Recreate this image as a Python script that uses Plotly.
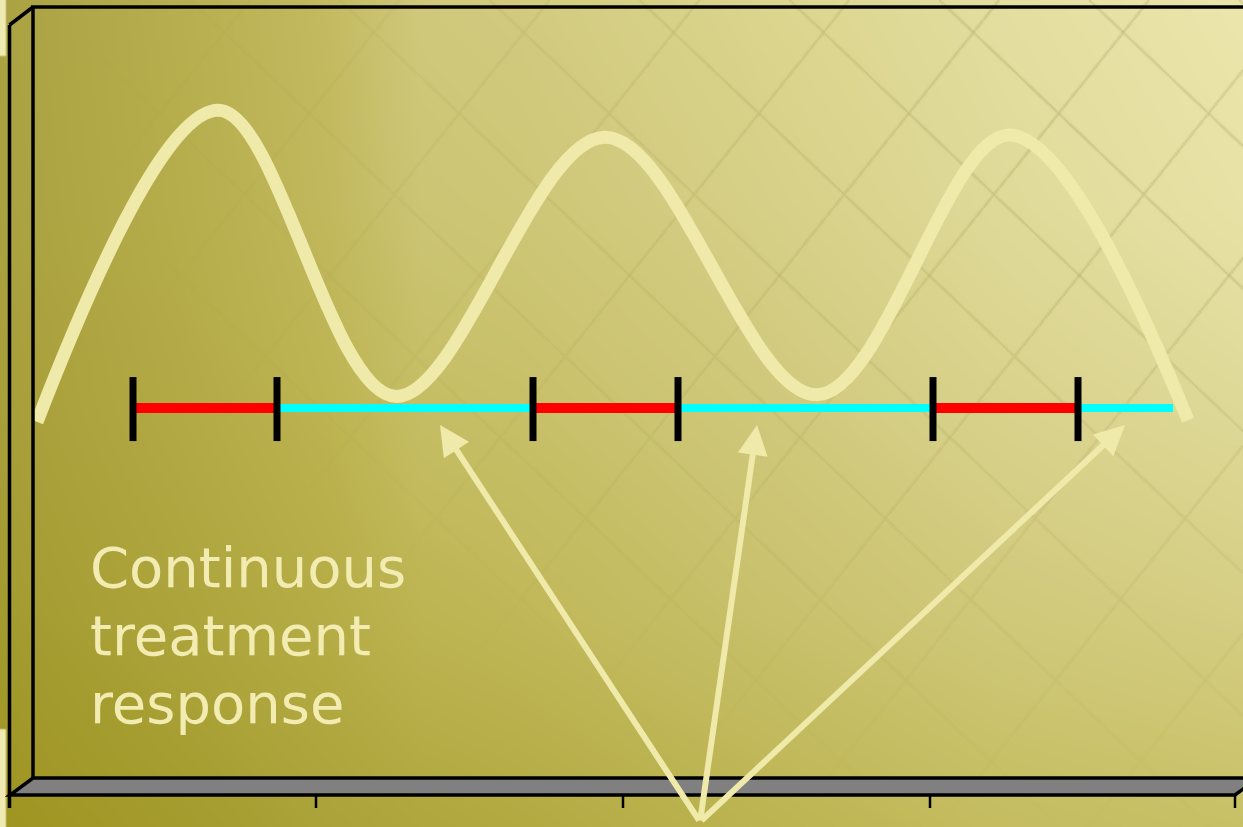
import base64
import struct
import zlib

import numpy as np
import plotly.graph_objects as go

W, H = 1243, 827

# ---- data -------------------------------------------------------------
# symptom level over time (wave of continuous treatment response)
curve_t = [0.1, 4.625, 9.05, 14.3, 19.6, 24.425, 28.875]
curve_v = [46.2, 86.6, 49.5, 83.1, 49.7, 83.4, 46.4]

# treatment-on periods (red) and treatment-off periods (cyan)
on_start = [2.5, 12.5, 22.5]
on_end = [6.1, 16.125, 26.125]
off_end = [12.5, 22.5, 28.5]
period_level = 48.0
marker_low, marker_high = 43.7, 52.0

# arrows point at the off-treatment intervals
arrow_tip_t = [10.175, 18.1, 27.3]
arrow_tip_v = [45.8, 45.8, 45.8]
arrow_tail = (16.675, -5.7)

label_lines = ["Continuous", "treatment", "response"]

PALE = "#efe9aa"


def px(x):
    return x / W


def py(y):
    return 1 - y / H


# ---- background: olive gradient with faint crosshatch --------------------
grid_x = [0, 180, 330, 420, 520, 750, 1000, 1243]
grid_y = [0, 207, 413, 620, 827]
grid_hex = [
    ["#aba243", "#b8af50", "#c4bb62", "#d0c97c", "#d2cb80", "#dbd58d", "#e4dea0", "#ece6ad"],
    ["#aaa140", "#b6ad4c", "#c2b95e", "#ccc574", "#cec777", "#d6cf86", "#e0da99", "#e8e2a6"],
    ["#a89f3a", "#b3aa46", "#bdb452", "#c6be64", "#c8c068", "#cfc87a", "#d9d28c", "#dfd998"],
    ["#a49b30", "#ada43c", "#b6ad46", "#bdb552", "#c0b858", "#c8c06a", "#d0c97a", "#d5ce83"],
    ["#9e9522", "#a59c2e", "#aca33a", "#b0a73e", "#b3aa42", "#bcb450", "#c5bd60", "#c9c166"],
]


def hex_rgb(h):
    return [int(h[i:i + 2], 16) for i in (1, 3, 5)]


grid = np.array([[hex_rgb(c) for c in row] for row in grid_hex], dtype=float)
S = 2  # background rendered at half resolution
sw, sh = (W + 1) // S, (H + 1) // S
xs = (np.arange(sw) + 0.5) * S
ys = (np.arange(sh) + 0.5) * S
img = np.zeros((sh, sw, 3))
for ch in range(3):
    tmp = np.array([np.interp(xs, grid_x, grid[r, :, ch]) for r in range(len(grid_y))])
    img[:, :, ch] = np.array([np.interp(ys, grid_y, tmp[:, i]) for i in range(sw)]).T

# two families of slanted hatch lines, fading toward the lower left
X, Y = np.meshgrid(xs, ys)
spacing = 150.0
hatch = np.zeros_like(X)
for slope, offset in [(870 / 827, 40.0), (-660 / 827, 100.0)]:
    u = (X - slope * Y - offset) % spacing
    d = np.minimum(u, spacing - u) / np.sqrt(1 + slope ** 2)
    hatch = np.maximum(hatch, np.clip(1.4 - d, 0, 1))
fade = np.clip(1.25 - np.hypot((W - X) / W, (Y - 0.1 * H) / H) / 0.75, 0, 1)
k = (0.26 * hatch * fade)[..., None]
img = img * (1 - k) + np.array([120, 115, 40]) * k

# pale strips along the left edge
pale = np.array(hex_rgb("#efe9b2"), dtype=float)
img[(X < 6) & (Y < 57)] = pale
img[(X < 6) & (Y > 729)] = pale
img = np.clip(img, 0, 255).astype(np.uint8)


def png_bytes(arr):
    h, w, _ = arr.shape
    raw = b"".join(b"\x00" + arr[r].tobytes() for r in range(h))

    def chunk(tag, data):
        return (struct.pack(">I", len(data)) + tag + data
                + struct.pack(">I", zlib.crc32(tag + data) & 0xFFFFFFFF))

    return (b"\x89PNG\r\n\x1a\n"
            + chunk(b"IHDR", struct.pack(">IIBBBBB", w, h, 8, 2, 0, 0, 0))
            + chunk(b"IDAT", zlib.compress(raw, 9))
            + chunk(b"IEND", b""))


bg_png = "data:image/png;base64," + base64.b64encode(png_bytes(img)).decode()

# ---- traces -----------------------------------------------------------
fig = go.Figure()


def segments(starts, ends, level):
    xs_, ys_ = [], []
    for a, b in zip(starts, ends):
        xs_ += [a, b, None]
        ys_ += [level, level, None]
    return xs_, ys_


cx, cy = segments(on_end, off_end, period_level)
fig.add_trace(go.Scatter(x=cx, y=cy, mode="lines", line=dict(color="#00ffff", width=8),
                         hoverinfo="skip", showlegend=False))
rx, ry = segments(on_start, on_end, period_level)
fig.add_trace(go.Scatter(x=rx, y=ry, mode="lines", line=dict(color="#ff0000", width=10),
                         hoverinfo="skip", showlegend=False))

tx, ty = [], []
for t in on_start + on_end:
    tx += [t, t, None]
    ty += [marker_low, marker_high, None]
fig.add_trace(go.Scatter(x=tx, y=ty, mode="lines", line=dict(color="#000000", width=7),
                         hoverinfo="skip", showlegend=False))

fig.add_trace(go.Scatter(x=curve_t, y=curve_v, mode="lines",
                         line=dict(color=PALE, width=13, shape="spline", smoothing=1.0),
                         hoverinfo="skip", showlegend=False))

# ---- 3D chart frame ----------------------------------------------------
frame = dict(color="#000000", width=3.5)
shapes = [
    dict(type="path", xref="paper", yref="paper",
         path=f"M {px(33)} {py(778)} L {px(1258)} {py(778)} L {px(1235)} {py(795)} L {px(10)} {py(795)} Z",
         fillcolor="#808080", line=frame),
    dict(type="line", xref="paper", yref="paper", x0=px(31), y0=py(7), x1=1, y1=py(7), line=frame),
    dict(type="line", xref="paper", yref="paper", x0=px(33), y0=py(7), x1=px(33), y1=py(778), line=frame),
    dict(type="line", xref="paper", yref="paper", x0=px(9.5), y0=py(25), x1=px(9.5), y1=py(808), line=frame),
    dict(type="line", xref="paper", yref="paper", x0=px(9.5), y0=py(25), x1=px(33), y1=py(7), line=frame),
]
for tick_x in [316, 623, 930, 1235]:
    shapes.append(dict(type="line", xref="paper", yref="paper", x0=px(tick_x), y0=py(795),
                       x1=px(tick_x), y1=py(808), line=dict(color="#000000", width=2.5)))

# ---- annotations --------------------------------------------------------
annotations = []
for xt, yt in zip(arrow_tip_t, arrow_tip_v):
    annotations.append(dict(x=xt, y=yt, xref="x", yref="y", ax=arrow_tail[0], ay=arrow_tail[1],
                            axref="x", ayref="y", text="", showarrow=True, arrowhead=2,
                            arrowsize=1.0, arrowwidth=6, arrowcolor=PALE, standoff=0))
for i, line in enumerate(label_lines):
    annotations.append(dict(x=px(88), y=py(567 + 68 * i), xref="paper", yref="paper",
                            xanchor="left", yanchor="middle", text=line, showarrow=False,
                            font=dict(family="DejaVu Sans", size=56, color="#f2ecb2")))

fig.update_layout(
    width=W, height=H, autosize=False,
    margin=dict(l=0, r=0, t=0, b=0),
    paper_bgcolor="#b9b04e", plot_bgcolor="rgba(0,0,0,0)",
    xaxis=dict(domain=[px(33), 1], range=[0, (W - 33) / 40], visible=False, fixedrange=True),
    yaxis=dict(domain=[py(778), py(7)], range=[0, 100], visible=False, fixedrange=True),
    shapes=shapes, annotations=annotations,
    images=[
        dict(source=bg_png, xref="paper", yref="paper", x=0, y=1, sizex=1, sizey=1,
             sizing="stretch", xanchor="left", yanchor="top", layer="below"),
    ],
)

fig.write_html("out.html")
